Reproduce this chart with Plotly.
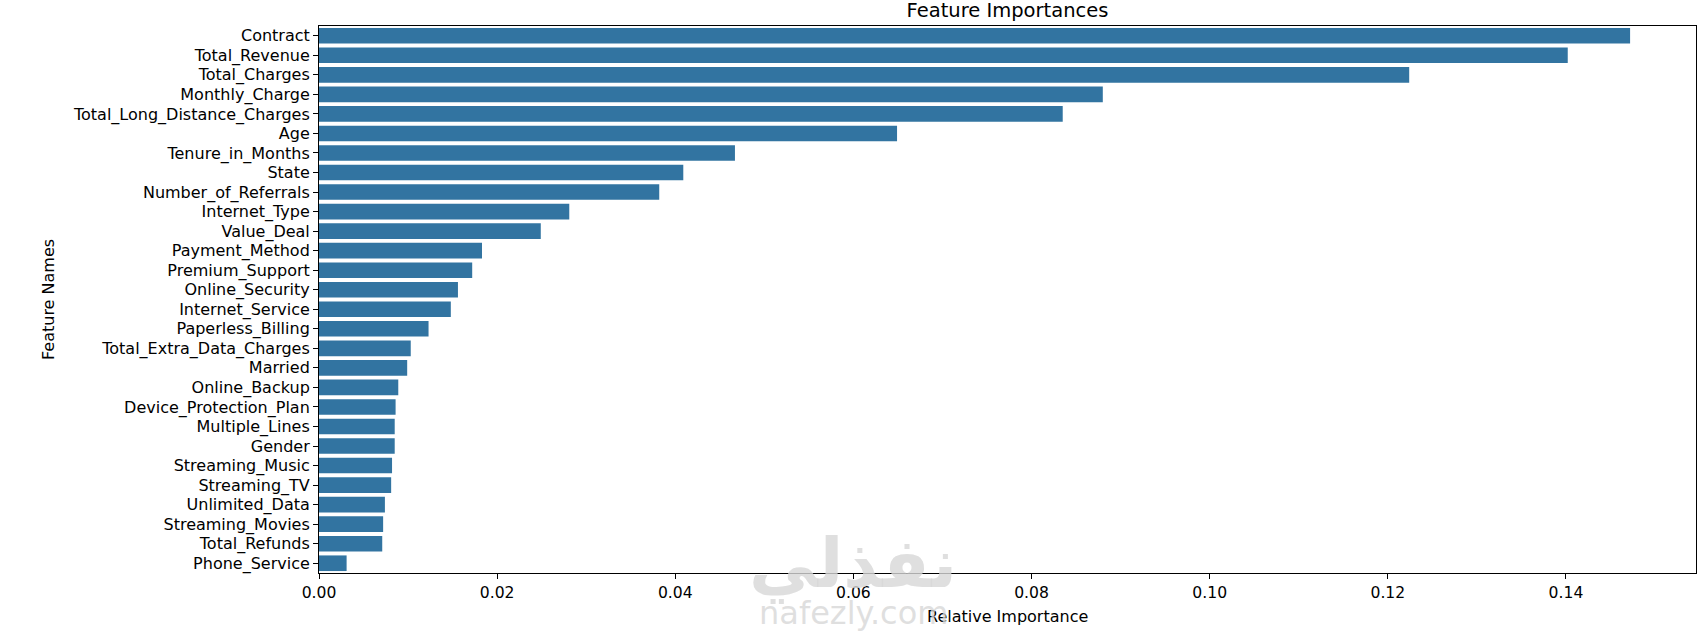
import plotly.graph_objects as go

features = [
    "Contract", "Total_Revenue", "Total_Charges", "Monthly_Charge",
    "Total_Long_Distance_Charges", "Age", "Tenure_in_Months", "State",
    "Number_of_Referrals", "Internet_Type", "Value_Deal", "Payment_Method",
    "Premium_Support", "Online_Security", "Internet_Service", "Paperless_Billing",
    "Total_Extra_Data_Charges", "Married", "Online_Backup", "Device_Protection_Plan",
    "Multiple_Lines", "Gender", "Streaming_Music", "Streaming_TV",
    "Unlimited_Data", "Streaming_Movies", "Total_Refunds", "Phone_Service",
]
importances = [
    0.1472, 0.1402, 0.1224, 0.0880,
    0.0835, 0.0649, 0.0467, 0.0409,
    0.0382, 0.0281, 0.0249, 0.0183,
    0.0172, 0.0156, 0.0148, 0.0123,
    0.0103, 0.0099, 0.0089, 0.0086,
    0.0085, 0.0085, 0.0082, 0.0081,
    0.0074, 0.0072, 0.0071, 0.0031,
]
x_ticks = [0.00, 0.02, 0.04, 0.06, 0.08, 0.10, 0.12, 0.14]

FONT = "DejaVu Sans"
BAR_COLOR = "#3274a1"

fig = go.Figure(
    go.Bar(
        x=importances,
        y=features,
        orientation="h",
        marker=dict(color=BAR_COLOR, line=dict(width=0)),
        hoverinfo="x+y",
    )
)

W, H = 1708, 642
L, R, T, B = 319, 12, 26, 69

fig.update_layout(
    width=W,
    height=H,
    margin=dict(l=L, r=R, t=T, b=B, pad=0),
    paper_bgcolor="white",
    plot_bgcolor="white",
    bargap=0.2,
    showlegend=False,
    font=dict(family=FONT, size=16, color="black"),
    title=dict(
        text="Feature Importances",
        x=(L + (W - L - R) / 2) / W,
        xanchor="center",
        y=1 - 10 / H,
        yanchor="middle",
        font=dict(family=FONT, size=19.5, color="black"),
    ),
)

fig.update_xaxes(
    range=[0, 0.1546],
    tickvals=x_ticks,
    tickformat=".2f",
    ticks="outside",
    ticklen=5,
    tickwidth=1,
    tickcolor="black",
    showline=True,
    linecolor="black",
    linewidth=1,
    mirror=True,
    showgrid=False,
    zeroline=False,
    tickfont=dict(family=FONT, size=15.6, color="black"),
)
fig.update_yaxes(
    type="category",
    categoryorder="array",
    categoryarray=features,
    range=[len(features) - 0.5, -0.5],
    ticks="outside",
    ticklen=5,
    tickwidth=1,
    tickcolor="black",
    showline=True,
    linecolor="black",
    linewidth=1,
    mirror=True,
    showgrid=False,
    zeroline=False,
    tickfont=dict(family=FONT, size=16, color="black"),
)

plot_h = H - T - B
plot_w = W - L - R

fig.add_annotation(
    text="Relative Importance",
    xref="paper", yref="paper",
    x=0.5, y=(H - B - 616) / plot_h,
    xanchor="center", yanchor="middle",
    showarrow=False,
    font=dict(family=FONT, size=16, color="black"),
)
fig.add_annotation(
    text="Feature Names",
    xref="paper", yref="paper",
    x=(48.5 - L) / plot_w, y=0.5,
    xanchor="center", yanchor="middle",
    textangle=-90,
    showarrow=False,
    font=dict(family=FONT, size=16, color="black"),
)

# faint watermark (overlays the chart, as in the reference)
fig.add_annotation(
    text="<b>نفذلي</b>",
    xref="paper", yref="paper",
    x=(853 - L) / plot_w, y=(H - B - 564) / plot_h,
    xanchor="center", yanchor="middle",
    showarrow=False,
    font=dict(family=FONT, size=68, color="rgba(215,215,215,0.8)"),
)
fig.add_annotation(
    text="nafezly.com",
    xref="paper", yref="paper",
    x=(853 - L) / plot_w, y=(H - B - 613) / plot_h,
    xanchor="center", yanchor="middle",
    showarrow=False,
    font=dict(family=FONT, size=32, color="rgba(215,215,215,0.8)"),
)

fig.write_html(
    "out.html",
    config={"displayModeBar": False},
    post_script="document.body.style.margin='0px';",
)
